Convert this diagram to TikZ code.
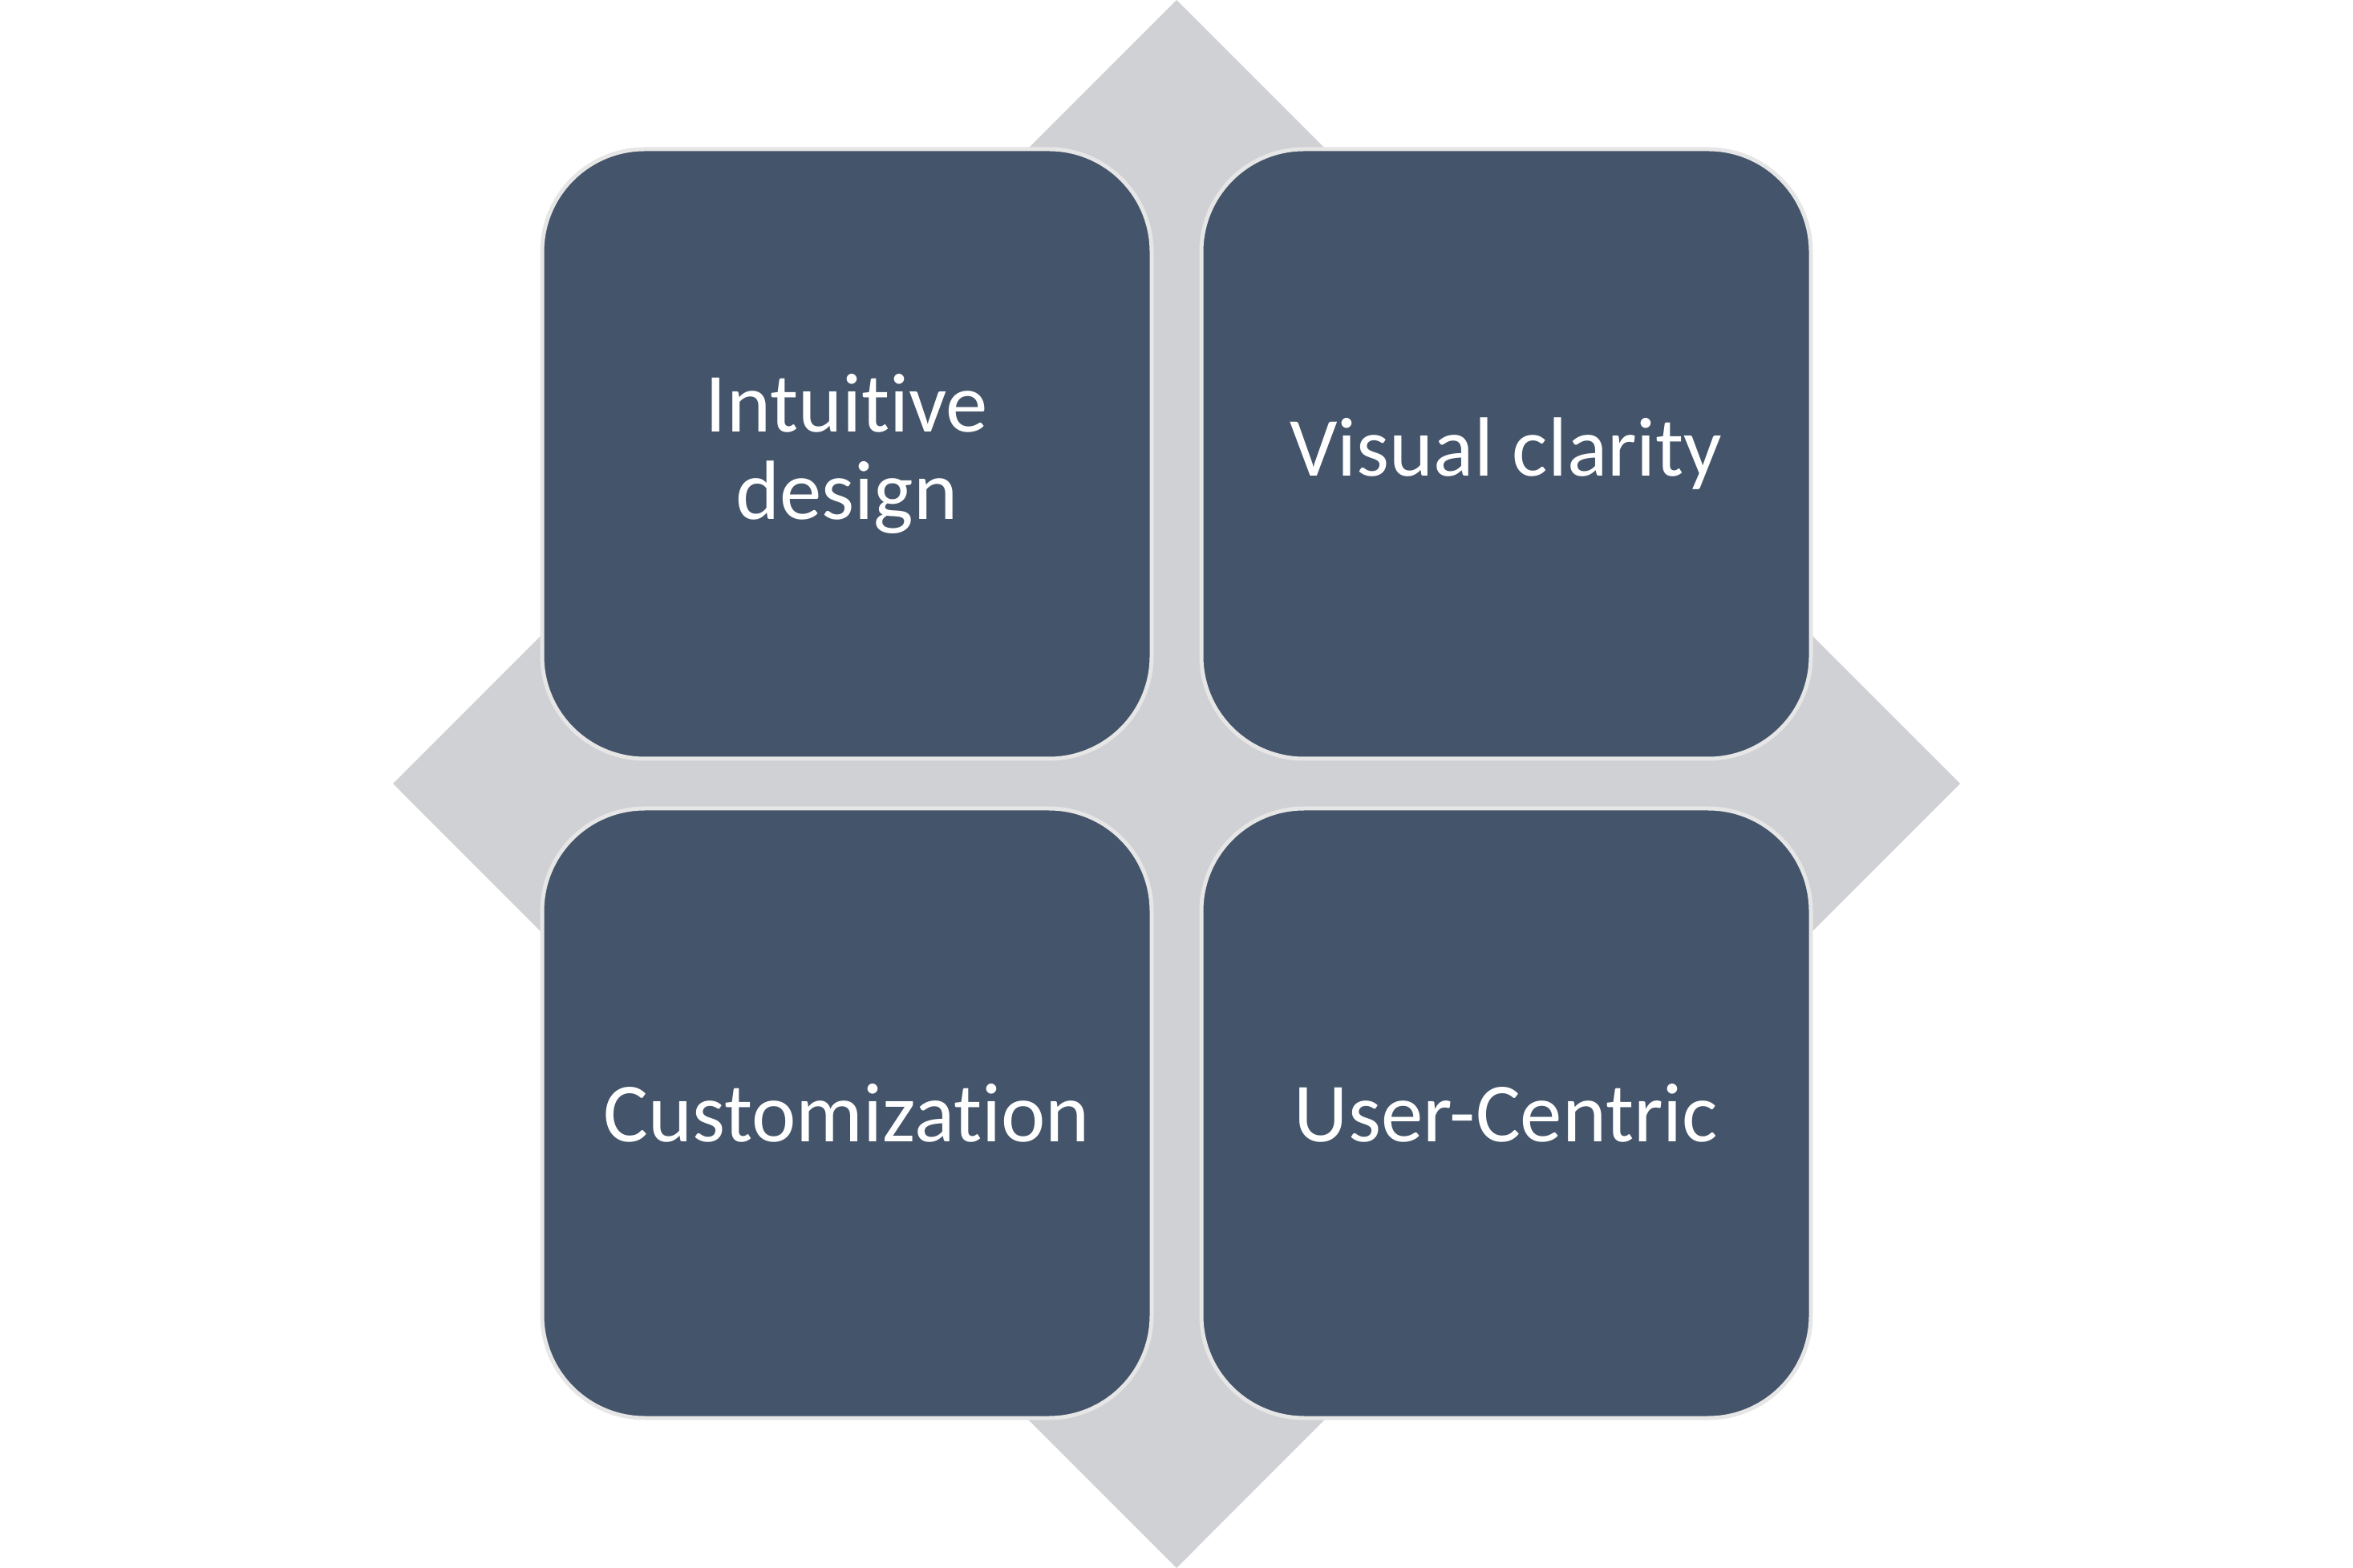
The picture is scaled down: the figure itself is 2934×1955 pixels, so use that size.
\documentclass[tikz,border=0pt]{standalone}
\usepackage{fontspec}
\setmainfont{Carlito}[Ligatures={NoCommon}]
\definecolor{tileblue}{HTML}{44546A}
\definecolor{tileedge}{HTML}{E7E6E6}
\definecolor{backgrey}{HTML}{D0D1D5}
\tikzset{tile/.style={draw=tileedge,line width=1.25pt,fill=tileblue,rounded corners=32pt,minimum width=190pt,minimum height=190pt,text=white,align=center,font=\fontsize{26.2}{27.2}\selectfont}}

\begin{document}
\begin{tikzpicture}[x=0.25pt,y=0.25pt,yscale=-1,xscale=1]
\useasboundingbox (0,0) rectangle (2934,1955);

%Shape: Diamond [id:back] 
\fill[backgrey] (1467,0) -- (2444,977) -- (1467,1955) -- (490,977) -- cycle ;
%Shape: Rounded Rect [id:intuitive] 
\node[tile] (intuitive) at (1056,566) {Intuitive\\design};
%Shape: Rounded Rect [id:visual] 
\node[tile] (visual) at (1878,566) {Visual clarity};
%Shape: Rounded Rect [id:custom] 
\node[tile] (custom) at (1056,1388) {Customization};
%Shape: Rounded Rect [id:user] 
\node[tile] (user) at (1878,1388) {User-Centric};

\end{tikzpicture}
\end{document}
